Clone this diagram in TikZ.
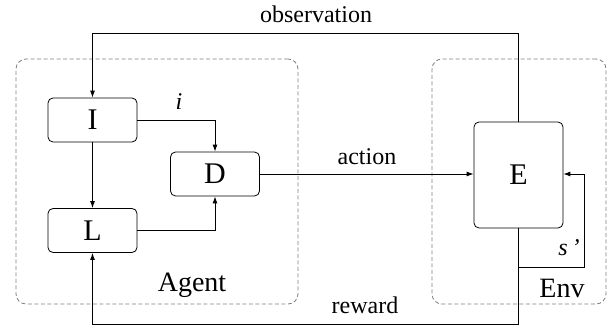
\documentclass[tikz,border=0pt]{standalone}
\usepackage{fontspec}
\setmainfont{Liberation Serif}
\usetikzlibrary{arrows.meta}
\tikzset{
    blk/.style={draw, line width=0.8pt, rounded corners=5pt, minimum width=89pt, minimum height=44pt, inner sep=0pt, font=\fontsize{30}{32}\selectfont},
    grp/.style={draw=gray, line width=0.8pt, dash pattern=on 4pt off 2.5pt, rounded corners=10pt, minimum height=245pt, inner sep=0pt},
    lbl/.style={inner sep=0pt, font=\fontsize{24}{26}\selectfont},
    big/.style={inner sep=0pt, font=\fontsize{28}{30}\selectfont},
    arr/.style={line width=0.9pt, -{Latex[length=7pt,width=5pt]}}
}
\begin{document}
\begin{tikzpicture}[x=1pt, y=-1pt]
    \useasboundingbox (0,0) rectangle (616,331);
    % groups
    \node [grp, minimum width=282pt] (agent) at (157, 181.5) {};
    \node [grp, minimum width=174pt] (env) at (519, 181.5) {};
    \node [big] (agentlbl) at (192, 285) {Agent};
    \node [big] (envlbl) at (562, 288) {Env};
    % blocks
    \node [blk] (I) at (92.5, 120) {I};
    \node [blk] (L) at (92.5, 230.5) {L};
    \node [blk] (D) at (215, 174) {D};
    \node [blk, minimum height=106pt] (E) at (518.5, 175) {E};
    % arrows
    \draw [arr] (I) -- (L);
    \draw [arr] (I.east) -| (D.north);
    \draw [arr] (L.east) -| (D.south);
    \draw [arr] (D.east) -- (D.east -| E.west);
    \draw [arr] (E.north) -- (E.north |- 0,33) -| (I.north);
    \draw [arr] (E.south) -- (E.south |- 0,324) -| (L.south);
    \draw [arr] (E.south |- 0,267) -| (584, 174) -- (E.east |- 0,174);
    % labels
    \node [lbl] (obs) at (316, 14) {observation};
    \node [lbl] (act) at (367, 157) {action};
    \node [lbl] (rew) at (365, 305) {reward};
    \node [lbl] (ilbl) at (179, 102) {\textit{i}};
    \node [lbl] (slbl) at (569, 248) {\textit{s\,’}};
\end{tikzpicture}
\end{document}
